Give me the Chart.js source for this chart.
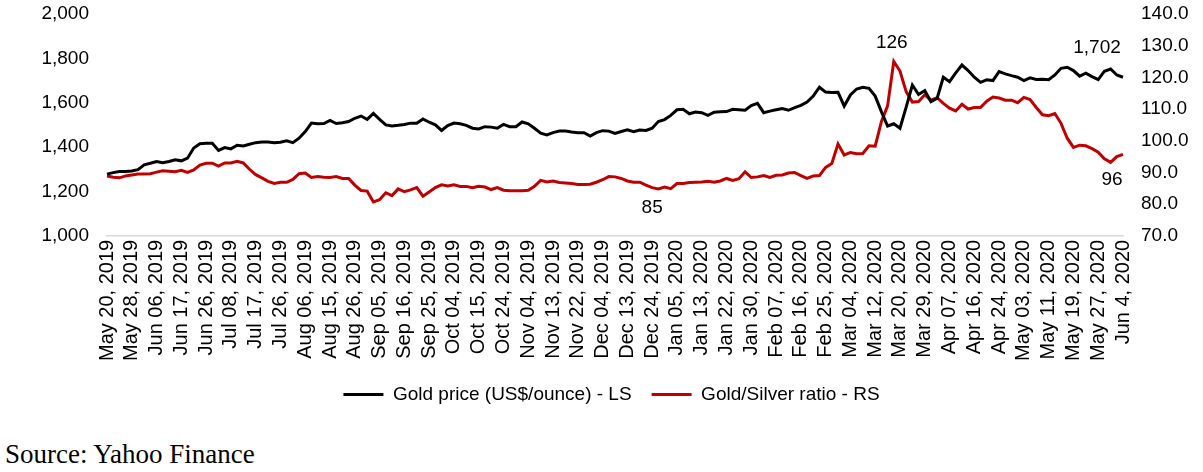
<!DOCTYPE html>
<html>
<head>
<meta charset="utf-8">
<script src="https://cdn.jsdelivr.net/npm/chart.js@4.4.1/dist/chart.umd.min.js"></script>
<style>
    html, body { margin: 0; padding: 0; background: #fff; }
    body { width: 1203px; height: 472px; position: relative; overflow: hidden; }
    #wrap { position: absolute; left: 0; top: 0; width: 1203px; height: 414px; }
    #source {
        position: absolute; left: 5px; top: 439px;
        font-family: "Liberation Serif", "Times New Roman", serif;
        font-size: 27px; color: #000; white-space: nowrap;
    }
</style>
</head>
<body>
<div id="wrap"><canvas id="goldChart"></canvas></div>
<div id="source">Source: Yahoo Finance</div>
<script>
// Tick labels, one every 4 data points
const tickLabels = [
    'May 20, 2019', 'May 28, 2019', 'Jun 06, 2019', 'Jun 17, 2019', 'Jun 26, 2019', 'Jul 08, 2019',
    'Jul 17, 2019', 'Jul 26, 2019', 'Aug 06, 2019', 'Aug 15, 2019', 'Aug 26, 2019', 'Sep 05, 2019',
    'Sep 16, 2019', 'Sep 25, 2019', 'Oct 04, 2019', 'Oct 15, 2019', 'Oct 24, 2019', 'Nov 04, 2019',
    'Nov 13, 2019', 'Nov 22, 2019', 'Dec 04, 2019', 'Dec 13, 2019', 'Dec 24, 2019', 'Jan 05, 2020',
    'Jan 13, 2020', 'Jan 22, 2020', 'Jan 30, 2020', 'Feb 07, 2020', 'Feb 16, 2020', 'Feb 25, 2020',
    'Mar 04, 2020', 'Mar 12, 2020', 'Mar 20, 2020', 'Mar 29, 2020', 'Apr 07, 2020', 'Apr 16, 2020',
    'Apr 24, 2020', 'May 03, 2020', 'May 11, 2020', 'May 19, 2020', 'May 27, 2020', 'Jun 4, 2020'
];
const pointsPerTick = 4;

// Gold price (US$/ounce) - left scale
const goldPrice = [
    1278, 1285, 1290, 1290, 1292, 1298, 1320, 1327, 1335, 1330, 1335, 1343, 1338, 1350, 1396, 1415,
    1417, 1417, 1385, 1398, 1392, 1408, 1405, 1413, 1420, 1423, 1423, 1420, 1422, 1428, 1420, 1440,
    1470, 1508, 1505, 1506, 1520, 1506, 1510, 1515, 1530, 1540, 1525, 1552, 1525, 1500, 1495, 1498,
    1502, 1508, 1508, 1527, 1512, 1500, 1475, 1497, 1508, 1505, 1498, 1485, 1482, 1492, 1490, 1485,
    1502, 1492, 1492, 1513, 1505, 1485, 1463, 1455, 1465, 1472, 1472, 1468, 1465, 1465, 1450, 1465,
    1474, 1472, 1462, 1470, 1478, 1469, 1477, 1475, 1485, 1515, 1524, 1543, 1568, 1570, 1550, 1558,
    1555, 1543, 1557, 1559, 1560, 1570, 1568, 1566, 1587, 1597, 1555, 1562, 1568, 1574, 1566, 1578,
    1588, 1603, 1630, 1670, 1648, 1646, 1647, 1585, 1635, 1662, 1670, 1665, 1630, 1560, 1495, 1505,
    1485, 1580, 1680, 1637, 1655, 1605, 1620, 1715, 1695, 1735, 1770, 1745, 1715, 1692, 1703, 1700,
    1740, 1730, 1722, 1715, 1700, 1712, 1705, 1706, 1704, 1725, 1755, 1760, 1745, 1720, 1733, 1718,
    1704, 1742, 1752, 1725, 1715
];

// Gold/Silver ratio - right scale
const goldSilverRatio = [
    88.9, 88.5, 88.3, 88.9, 89.2, 89.5, 89.5, 89.6, 90.1, 90.5, 90.4, 90.2, 90.7, 90.0, 90.8, 92.3,
    92.9, 92.9, 92.0, 93.0, 93.0, 93.5, 93.0, 91.0, 89.3, 88.3, 87.2, 86.5, 86.9, 86.9, 87.8, 89.6,
    89.8, 88.4, 88.7, 88.5, 88.4, 88.7, 88.1, 88.1, 86.0, 84.3, 84.1, 80.7, 81.4, 83.6, 82.7, 84.8,
    83.9, 84.5, 85.2, 82.5, 83.8, 85.2, 86.1, 85.7, 86.1, 85.6, 85.6, 85.2, 85.6, 85.4, 84.6, 85.2,
    84.4, 84.2, 84.2, 84.2, 84.4, 85.6, 87.5, 87.0, 87.3, 86.8, 86.7, 86.5, 86.2, 86.2, 86.3, 86.9,
    87.7, 88.7, 88.6, 88.1, 87.3, 86.9, 86.9, 86.0, 85.2, 84.8, 85.4, 84.9, 86.5, 86.5, 86.8, 86.9,
    87.0, 87.2, 86.9, 87.3, 88.1, 87.5, 88.0, 90.2, 88.4, 88.6, 89.0, 88.4, 89.1, 89.2, 89.8, 90.0,
    89.0, 88.1, 88.9, 89.0, 91.6, 92.8, 99.0, 95.5, 96.3, 95.9, 96.0, 98.4, 98.3, 106.0, 111.0, 125.0,
    122.0, 115.5, 112.2, 112.4, 114.5, 112.8, 113.6, 111.8, 110.3, 109.4, 111.5, 110.0, 110.5, 110.5, 112.5, 113.8,
    113.5, 112.8, 112.8, 112.0, 113.7, 113.0, 110.5, 108.2, 107.9, 108.6, 105.5, 100.8, 97.9, 98.6, 98.4, 97.5,
    96.4, 94.3, 93.2, 95.0, 95.7
];

// Value callouts: [dataset index, point index, text, dx, dy]
const callouts = [
    [1, 127, '126', -2, -19],
    [1, 88, '85', 0, 20],
    [0, 164, '1,702', -26, -29],
    [1, 164, '96', -11, 25]
];

const FONT = '"Liberation Sans", Arial, sans-serif';

const pointLabels = goldPrice.map((v, i) => (i % pointsPerTick === 0 ? tickLabels[i / pointsPerTick] : ''));

const calloutPlugin = {
    id: 'callouts',
    afterDatasetsDraw(chart) {
        const ctx = chart.ctx;
        ctx.save();
        ctx.font = '19px ' + FONT;
        ctx.fillStyle = '#000';
        ctx.textAlign = 'center';
        ctx.textBaseline = 'middle';
        callouts.forEach(c => {
            const pt = chart.getDatasetMeta(c[0]).data[c[1]];
            if (pt) ctx.fillText(c[2], pt.x + c[3], pt.y + c[4]);
        });
        ctx.restore();
    }
};

// keep the tick padding from eating vertical room on the value axes
function fitValueAxis(width) {
    return s => {
        s.width = width;
        s.paddingTop = 0;
        s.paddingBottom = 0;
    };
}

const ctx = document.getElementById('goldChart').getContext('2d');
new Chart(ctx, {
    type: 'line',
    data: {
        labels: pointLabels,
        datasets: [
            {
                label: 'Gold price (US$/ounce) - LS',
                data: goldPrice,
                borderColor: '#000000',
                backgroundColor: '#000000',
                borderWidth: 3,
                pointRadius: 0,
                tension: 0,
                yAxisID: 'y'
            },
            {
                label: 'Gold/Silver ratio - RS',
                data: goldSilverRatio,
                borderColor: '#c00000',
                backgroundColor: '#c00000',
                borderWidth: 3,
                pointRadius: 0,
                tension: 0,
                yAxisID: 'y1'
            }
        ]
    },
    options: {
        responsive: true,
        maintainAspectRatio: false,
        animation: false,
        layout: { padding: { top: 14, left: 20, right: 0, bottom: 0 } },
        plugins: {
            tooltip: { enabled: false },
            legend: {
                position: 'bottom',
                labels: {
                    color: '#000',
                    font: { family: FONT, size: 19 },
                    boxWidth: 40,
                    boxHeight: 0,
                    padding: 20
                }
            }
        },
        scales: {
            x: {
                offset: false,
                grid: { display: false, drawTicks: false },
                border: { display: true, color: '#d9d9d9', width: 1.5 },
                ticks: {
                    autoSkip: false,
                    maxRotation: 90,
                    minRotation: 90,
                    padding: 4,
                    color: '#000',
                    font: { family: FONT, size: 20 },
                    callback: function (val, idx) { return pointLabels[idx] || null; }
                }
            },
            y: {
                position: 'left',
                min: 1000,
                max: 2000,
                grid: { display: false, drawTicks: false },
                border: { display: false },
                afterFit: fitValueAxis(87),
                ticks: {
                    autoSkip: false,
                    stepSize: 200,
                    padding: 18,
                    color: '#000',
                    font: { family: FONT, size: 19 },
                    callback: v => v.toLocaleString('en-US')
                }
            },
            y1: {
                position: 'right',
                min: 70,
                max: 140,
                grid: { display: false, drawTicks: false },
                border: { display: false },
                afterFit: fitValueAxis(80),
                ticks: {
                    autoSkip: false,
                    stepSize: 10,
                    padding: 18,
                    color: '#000',
                    font: { family: FONT, size: 19 },
                    callback: v => v.toFixed(1)
                }
            }
        }
    },
    plugins: [calloutPlugin]
});
</script>
</body>
</html>
